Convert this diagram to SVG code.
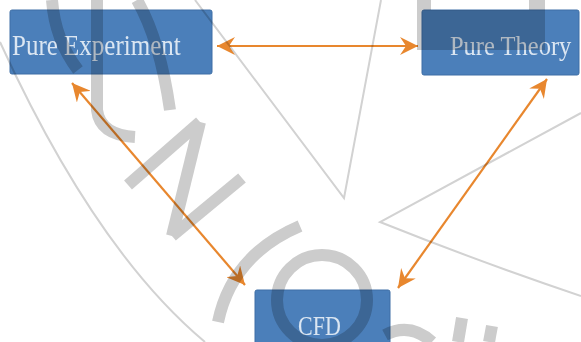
<svg xmlns="http://www.w3.org/2000/svg" width="581" height="342" viewBox="0 0 581 342">
  <style>
    .box { fill: #4b7fba; stroke: #3f6fa6; stroke-width: 1; }
    .lbl { font-family: "Liberation Serif", "Times New Roman", serif; fill: #dbe6f2; }
    .conn { stroke: #e8872e; stroke-width: 2.2; fill: none; marker-start: url(#ah); marker-end: url(#ah); }
    .wm { mix-blend-mode: multiply; }
    .wm .thin { stroke: #d2d2d2; stroke-width: 2; fill: none; }
    .wm .thick { stroke: #cccccc; stroke-width: 12; fill: none; }
  </style>
  <defs>
    <marker id="ah" markerUnits="userSpaceOnUse" markerWidth="20" markerHeight="18" refX="18" refY="9" orient="auto-start-reverse" viewBox="0 0 20 18">
      <path d="M0,0 L18,9 L0,18 L6,9 Z" fill="#e8872e"/>
    </marker>
  </defs>
  <rect width="581" height="342" fill="#ffffff"/>

  <g id="node-pure-experiment">
    <rect class="box" x="10" y="10" width="202" height="64" rx="2"/>
    <text class="lbl" transform="translate(12,55) scale(1,1.15)" font-size="25">Pure Experiment</text>
  </g>
  <g id="node-pure-theory">
    <rect class="box" x="422" y="10" width="157" height="65" rx="2"/>
    <text class="lbl" transform="translate(450,55) scale(1,1.15)" font-size="24.5">Pure Theory</text>
  </g>
  <g id="node-cfd">
    <rect class="box" x="255" y="290" width="135" height="60" rx="2"/>
    <text class="lbl" transform="translate(298,335) scale(1,1.2)" font-size="22">CFD</text>
  </g>

  <g id="connectors">
    <line class="conn" x1="217" y1="46" x2="418" y2="46"/>
    <line class="conn" x1="72" y1="83" x2="245" y2="285"/>
    <line class="conn" x1="547" y1="79" x2="398" y2="288"/>
  </g>

  <g id="watermark" class="wm">
    <path class="thin" d="M0,42 Q95,250 205,342"/>
    <path class="thin" d="M195,0 L344,198 L381,0"/>
    <path class="thin" d="M581,113 L380,222 Q480,262 581,296"/>
    <path class="thick" d="M52,0 Q55,40 78,70"/>
    <path class="thick" d="M97,0 L97,110 Q100,135 135,137"/>
    <path class="thick" d="M137,0 Q160,40 170,110"/>
    <path class="thick" d="M200,122 L128,185"/>
    <path class="thick" d="M200,122 L172,236"/>
    <path class="thick" d="M242,178 L172,236"/>
    <path class="thick" stroke-width="10" d="M300,226 Q232,255 218,322"/>
    <circle class="thick" stroke-width="11" cx="322" cy="300" r="45"/>
    <path class="thick" stroke-width="10" d="M385,335 Q410,322 432,342"/>
    <path class="thick" stroke-width="10" d="M462,318 L458,342"/>
    <path class="thick" stroke-width="10" d="M492,326 L489,342"/>
    <path d="M417,0 H431 V10 H529 V0 H545 V50 H417 Z" fill="#cccccc"/>
  </g>
</svg>
